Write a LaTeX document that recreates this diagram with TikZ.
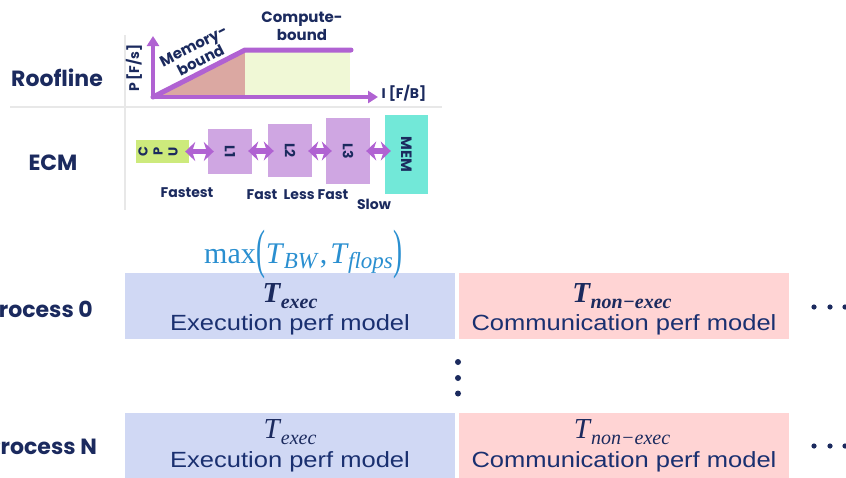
\documentclass[tikz,border=0pt]{standalone}
\usepackage{fontspec}
\setmainfont{Liberation Serif}
\newfontfamily\gothic{Poppins}
\newfontfamily\helv[FakeStretch=1.16]{Liberation Sans}
\usetikzlibrary{arrows.meta}
\definecolor{navy}{HTML}{1B2A5E}
\definecolor{descblue}{HTML}{1A3070}
\definecolor{purp}{HTML}{B062D2}
\definecolor{rose}{HTML}{DBA8A2}
\definecolor{lgreen}{HTML}{F0F8D6}
\definecolor{cpugreen}{HTML}{CDEA7C}
\definecolor{lilac}{HTML}{CFA6E2}
\definecolor{turq}{HTML}{72E8D8}
\definecolor{pblue}{HTML}{D0D8F4}
\definecolor{ppink}{HTML}{FFD4D4}
\definecolor{mblue}{HTML}{2A8FD0}
\definecolor{gridgray}{HTML}{E8E8E8}
\newcommand{\TT}[1]{\textit{T}\kern-0.5pt\raisebox{-6pt}{\fontsize{20}{20}\selectfont\textit{#1}}}
\newcommand{\TM}[1]{\textit{T}\kern-0.5pt\raisebox{-5pt}{\fontsize{23}{23}\selectfont\textit{#1}}}
\begin{document}
\begin{tikzpicture}[x=1pt,y=-1pt,
  lab/.style={font=\gothic\bfseries\fontsize{22}{26}\selectfont, text=navy, inner sep=0pt},
  small/.style={font=\gothic\bfseries\fontsize{14}{17}\selectfont, text=navy, inner sep=0pt, align=center},
  boxtext/.style={font=\gothic\bfseries\fontsize{14}{14}\selectfont, text=navy, inner sep=0pt},
  ecmbox/.style={inner sep=0pt, minimum width=44pt},
  biarrow/.style={draw=purp, line width=5.5pt, line cap=round,
     {Stealth[length=10pt,width=19pt,inset=3pt]}-{Stealth[length=10pt,width=19pt,inset=3pt]}},
  axis/.style={draw=purp, line width=4pt, line cap=round, -{Triangle[length=10pt,width=12pt]}},
  roofline/.style={draw=purp, line width=5pt, line cap=round, line join=round},
  perf/.style={inner sep=0pt, minimum width=330pt, minimum height=66pt},
  desc/.style={font=\helv\fontsize{22}{22}\selectfont, text=descblue, inner sep=0pt},
  tnode/.style={text=navy, inner sep=0pt, font=\fontsize{29}{29}\selectfont},
  dotc/.style={fill=navy},
  grid/.style={draw=gridgray, line width=1.2pt}
]
\useasboundingbox (0,0) rectangle (846,477);
% grid lines
\draw[grid] (10,107) -- (442,107);
\draw[grid] (125,35) -- (125,210);
% left labels
\node[lab] (roof) at (57,78) {Roofline};
\node[lab] (ecm) at (53,163) {ECM};
% roofline chart
\coordinate (o) at (153,97);
\coordinate (ytop) at (153,36);
\coordinate (xend) at (378,97);
\coordinate (knee) at (245,50);
\coordinate (rend) at (351,50);
\fill[rose] (o) -- (245,52) -- (245,97) -- cycle;
\fill[lgreen] (245,52) rectangle (350,97);
\draw[axis] (o) -- (ytop);
\draw[axis] (o) -- (xend);
\draw[roofline] (o) -- (knee) -- (rend);
\node[small, rotate=90] (py) at (134,68) {P [F/s]};
\node[small] (ix) at (404,93) {I [F/B]};
\node[small, rotate=27, font=\gothic\bfseries\fontsize{15}{16}\selectfont] (memb) at (197,53) {Memory-\\bound};
\node[small, font=\gothic\bfseries\fontsize{15}{18}\selectfont] (compb) at (302,26) {Compute-\\bound};
% ECM
\node[ecmbox, fill=cpugreen, minimum width=53pt, minimum height=23pt] (cpu) at (162.5,151.5) {};
\node[boxtext, rotate=90, font=\gothic\bfseries\fontsize{13}{13}\selectfont] (cc) at (143,151.5) {C};
\node[boxtext, rotate=90, font=\gothic\bfseries\fontsize{13}{13}\selectfont] (cp) at (158,151.5) {P};
\node[boxtext, rotate=90, font=\gothic\bfseries\fontsize{13}{13}\selectfont] (cu) at (173,151.5) {U};
\node[ecmbox, fill=lilac, minimum height=45pt] (l1) at (230,151.5) {};
\node[ecmbox, fill=lilac, minimum height=53pt] (l2) at (290,150.5) {};
\node[ecmbox, fill=lilac, minimum height=66pt] (l3) at (348,151) {};
\node[ecmbox, fill=turq, minimum width=43pt, minimum height=79pt] (mem) at (406.5,154.5) {};
\node[boxtext, rotate=-90] (l1t) at (l1) {L1};
\node[boxtext, rotate=-90] (l2t) at (l2) {L2};
\node[boxtext, rotate=-90] (l3t) at (l3) {L3};
\node[boxtext, rotate=-90, font=\gothic\bfseries\fontsize{15}{15}\selectfont] (memt) at (mem) {MEM};
\draw[biarrow, shorten <=-4pt, shorten >=-6pt] (cpu.east) -- (cpu.east -| l1.west);
\draw[biarrow, shorten <=-4pt, shorten >=-6pt] (l1.east |- 0,151) -- (l2.west |- 0,151);
\draw[biarrow, shorten <=-4pt, shorten >=-6pt] (l2.east |- 0,151) -- (l3.west |- 0,151);
\draw[biarrow, shorten <=-4pt, shorten >=-6pt] (l3.east |- 0,151) -- (mem.west |- 0,151);
\node[small] (fastest) at (187,193) {Fastest};
\node[small] (fast) at (262,195) {Fast};
\node[small] (lessfast) at (316,195) {Less Fast};
\node[small] (slow) at (374,204) {Slow};
% performance model rows
\node[perf, fill=pblue] (exec0) at (290,306) {};
\node[perf, fill=ppink] (comm0) at (624,306) {};
\node[perf, fill=pblue] (execN) at (290,446) {};
\node[perf, fill=ppink] (commN) at (624,446) {};
\node[text=mblue, inner sep=0pt, font=\fontsize{30}{30}\selectfont, anchor=base west] (maxe) at (204,263)
  {max\kern1pt\raisebox{-4pt}{\scalebox{0.9}[1.8]{(}}\TM{BW}\kern1pt,\kern3pt\TM{flops}\kern1pt\raisebox{-4pt}{\scalebox{0.9}[1.8]{)}}};
\node[tnode, font=\fontsize{29}{29}\selectfont\bfseries] (te0) at (290,296) {\TT{exec}};
\node[desc] (d0) at (290,325) {Execution perf model};
\node[tnode, font=\fontsize{29}{29}\selectfont\bfseries] (tn0) at (622,296) {\TT{non−exec}};
\node[desc] (c0) at (624,325) {Communication perf model};
\node[tnode] (teN) at (290,432) {\TT{exec}};
\node[desc] (dN) at (290,462) {Execution perf model};
\node[tnode] (tnN) at (622,432) {\TT{non−exec}};
\node[desc] (cN) at (624,462) {Communication perf model};
\node[lab, anchor=east] (p0) at (93,309) {Process 0};
\node[lab, anchor=east] (pN) at (97,447) {Process N};
% dots
\fill[dotc] (814,307) circle (2.6pt) (830,307) circle (2.6pt) (845,307) circle (2.6pt);
\fill[dotc] (814,446) circle (2.6pt) (830,446) circle (2.6pt) (845,446) circle (2.6pt);
\fill[dotc] (458,362) circle (3pt) (458,378) circle (3pt) (458,393.5) circle (3pt);
\end{tikzpicture}
\end{document}
